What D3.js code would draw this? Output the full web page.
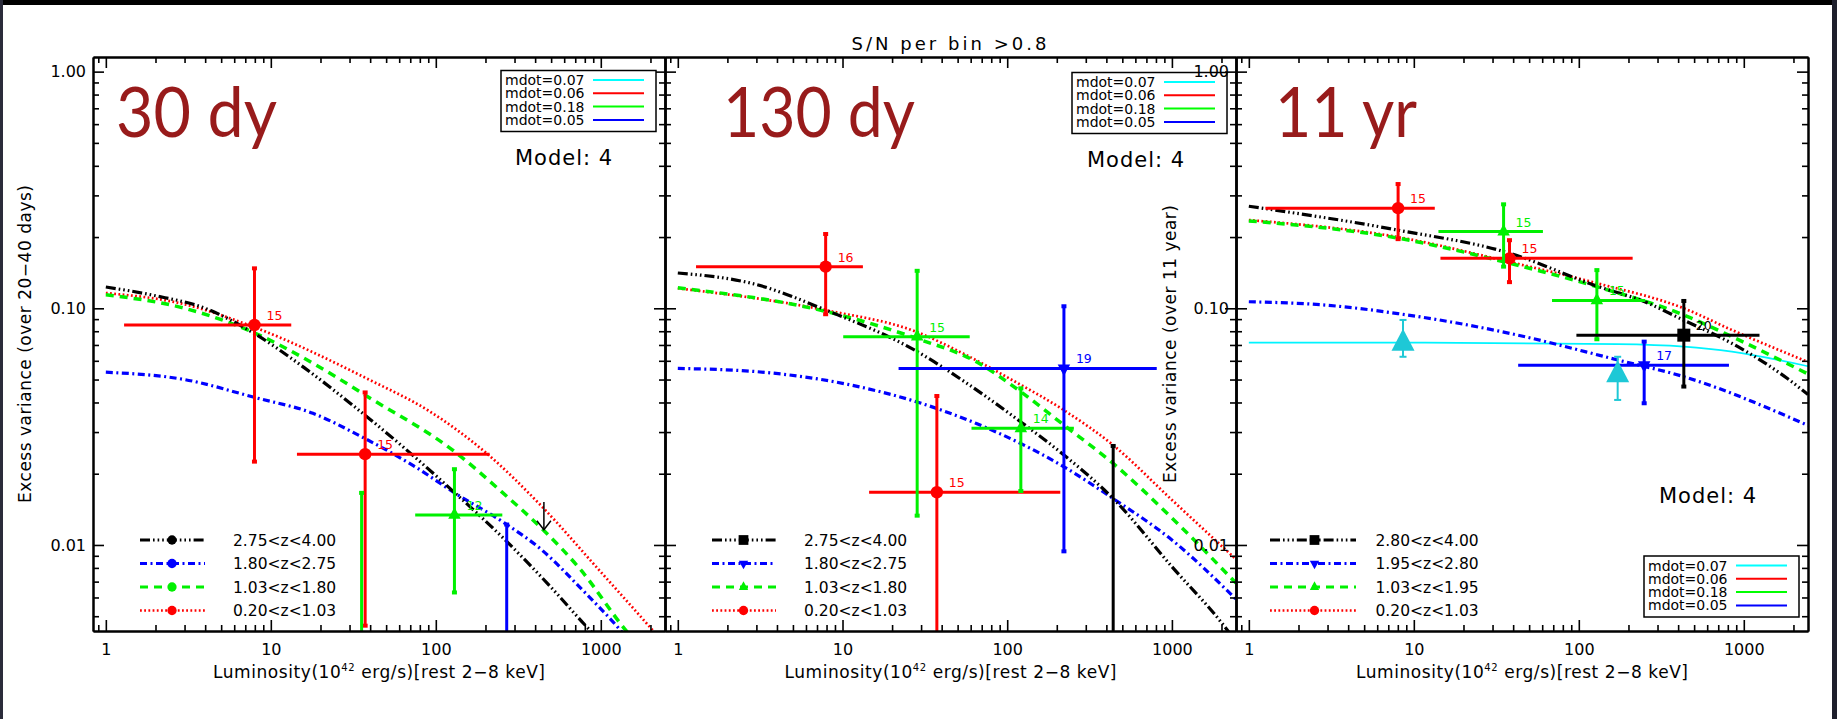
<!DOCTYPE html>
<html>
<head>
<meta charset="utf-8">
<script src="https://cdn.jsdelivr.net/npm/d3@7"></script>
<style>
  body { margin: 0; background: #ffffff; overflow: hidden; }
</style>
</head>
<body>
<div id="chart"></div>
<script>
// ---- values ----
const xTickValues = [1, 10, 100, 1000];
const yTickValues = [0.01, 0.1, 1];
const periodLabels = ['30 dy', '130 dy', '11 yr'];
const mdotLabels = ['mdot=0.07', 'mdot=0.06', 'mdot=0.18', 'mdot=0.05'];
const zBins30 = ['2.75<z<4.00', '1.80<z<2.75', '1.03<z<1.80', '0.20<z<1.03'];
const zBins130 = ['2.75<z<4.00', '1.80<z<2.75', '1.03<z<1.80', '0.20<z<1.03'];
const zBins11 = ['2.80<z<4.00', '1.95<z<2.80', '1.03<z<1.95', '0.20<z<1.03'];

// model curves: [luminosity, excess variance]
const model30Black = [[1, 0.123], [2, 0.113], [4, 0.100], [8, 0.078], [16, 0.056], [32, 0.0385], [64, 0.0258], [128, 0.0168], [256, 0.0107], [512, 0.0065], [800, 0.0046], [1000, 0.0039]];
const model30Blue = [[1, 0.0537], [3, 0.050], [8, 0.042], [18, 0.036], [35, 0.0288], [75, 0.0214], [130, 0.0166], [260, 0.0124], [441, 0.0095], [750, 0.0066], [1300, 0.0044], [1600, 0.0037]];
const model30Green = [[1, 0.114], [3, 0.100], [8, 0.0786], [18, 0.0586], [40, 0.0417], [130, 0.0248], [250, 0.0168], [441, 0.0117], [750, 0.0079], [1440, 0.0043], [1800, 0.0036]];
const model30Red = [[1, 0.116], [3, 0.104], [8, 0.083], [40, 0.0497], [90, 0.0370], [203, 0.0244], [441, 0.0145], [966, 0.0079], [2040, 0.0044], [2450, 0.0038]];

const model130Black = [[1, 0.141], [3, 0.126], [8, 0.098], [28, 0.066], [55, 0.049], [121, 0.0331], [221, 0.024], [440, 0.0157], [1000, 0.0081], [2100, 0.0045], [2450, 0.0039]];
const model130Blue = [[1, 0.0557], [3, 0.054], [10, 0.0482], [28, 0.0403], [65, 0.0326], [221, 0.0214], [440, 0.0157], [1000, 0.0105], [2450, 0.0059]];
const model130Green = [[1, 0.122], [8, 0.0968], [28, 0.0747], [65, 0.0594], [121, 0.0444], [221, 0.0321], [440, 0.0221], [1000, 0.013], [2450, 0.0069]];
const model130Red = [[1, 0.1215], [8, 0.098], [28, 0.0796], [55, 0.064], [107, 0.0498], [221, 0.0371], [440, 0.0264], [1000, 0.0155], [2450, 0.0087]];

const model11Black = [[1, 0.270], [8, 0.214], [38, 0.171], [129, 0.124], [251, 0.1065], [433, 0.089], [847, 0.0711], [1830, 0.0506], [2450, 0.0432]];
const model11Blue = [[1, 0.1066], [3, 0.103], [8, 0.095], [38, 0.0784], [172, 0.0605], [433, 0.0514], [2450, 0.032]];
const model11Green = [[1, 0.234], [8, 0.198], [38, 0.155], [129, 0.1233], [433, 0.0937], [847, 0.0759], [2450, 0.0528]];
const model11Red = [[1, 0.236], [8, 0.200], [38, 0.157], [129, 0.1276], [433, 0.100], [847, 0.081], [2450, 0.0593]];
const model11Cyan = [[1, 0.0716], [8.6, 0.0716], [172, 0.0706], [433, 0.0689], [847, 0.0656], [2450, 0.0569]];

// binned measurements: [L, variance, L low, L high, var low, var high, N]
// (points whose value falls below the plotted range are given 0.003)
const obs30Red = [[7.96, 0.085, 1.29, 13.3, 0.0225, 0.1475, 15], [37.3, 0.0242, 14.4, 212, 0.00456, 0.0441, 15]];
const obs30Green = [[35.5, 0.003, null, null, 0.003, 0.0166, null], [129.7, 0.0134, 75, 253, 0.0063, 0.0209, 12]];
const obs30Blue = [[269, 0.003, null, null, 0.003, 0.0122, null]];
const obs30Black = [];
const limit30Black = [[452, 0.0152, 0.0116]]; // upper limit arrow: L, start, tip

const obs130Red = [[7.9, 0.150, 1.29, 13.3, 0.0944, 0.206, 16], [37.4, 0.0167, 14.5, 210, 0.003, 0.0426, 15]];
const obs130Green = [[28.4, 0.0759, 10.1, 59.2, 0.0133, 0.144, 15], [121, 0.0311, 60.7, 254, 0.0169, 0.0459, 14]];
const obs130Blue = [[221, 0.0557, 21.9, 809, 0.0094, 0.102, 19]];
const obs130Black = [[440, 0.003, null, null, 0.003, 0.0262, null]];

const obs11Red = [[8.03, 0.265, 1.26, 13.4, 0.196, 0.335, 15], [38, 0.1626, 14.5, 212, 0.129, 0.194, 15]];
const obs11Green = [[35, 0.211, 14.1, 60.6, 0.150, 0.275, 15], [128.7, 0.108, 68.8, 253, 0.074, 0.145, 15]];
const obs11Blue = [[249, 0.0575, 42.9, 813, 0.0397, 0.0723, 17]];
const obs11Black = [[433, 0.077, 96.7, 1245, 0.0467, 0.1074, 20]];
const obs11Cyan = [[8.6, 0.071, null, null, 0.0624, 0.0893, null], [172, 0.0523, null, null, 0.041, 0.0624, null]];

// ---- layout & style ----
const width = 1837;
const height = 719;
const plotTop = 57;
const plotBottom = 631;
const xDomain = [0.836, 2450];
const yDomain = [0.00433, 1.153];
const font = '"DejaVu Sans", "Liberation Sans", sans-serif';

const seriesStyle = {
  black: { color: '#000000', dash: '10,3,1.6,3,1.6,3,1.6,3', width: 3.2, marker: 'square' },
  blue: { color: '#0000ff', dash: '7,3.5,2,3.5', width: 3.2, marker: 'down' },
  green: { color: '#00f000', dash: '8,6', width: 3.5, marker: 'up' },
  red: { color: '#ff0000', dash: '1.8,2.4', width: 2.7, marker: 'circle' },
  cyan: { color: '#00f4ff', dash: null, width: 1.6, marker: 'bigup' }
};
const mdotColors = ['#00ffff', '#ff0000', '#00ff00', '#0000ff'];
const legendOrder = ['black', 'blue', 'green', 'red'];

const panels = [
  {
    left: 93, right: 665, label: periodLabels[0], labelX: 116, labelLen: 161,
    yTitle: 'Excess variance (over 20\u221240 days)', yTitleX: 31, yTitleLen: 318, yLabels: true,
    models: { red: model30Red, green: model30Green, blue: model30Blue, black: model30Black },
    obs: { red: obs30Red, green: obs30Green, blue: obs30Blue, black: obs30Black },
    limits: limit30Black,
    zBins: zBins30, legendMarkers: ['circle', 'circle', 'circle', 'circle'],
    zLegend: { x0: 140, x1: 205, mx: 172, tx: 233 },
    mdotBox: { x: 501, y: 70.5 }, modelText: { x: 515, y: 165 }
  },
  {
    left: 665, right: 1236, label: periodLabels[1], labelX: 723, labelLen: 192,
    yTitle: null, yLabels: false,
    models: { red: model130Red, green: model130Green, blue: model130Blue, black: model130Black },
    obs: { red: obs130Red, green: obs130Green, blue: obs130Blue, black: obs130Black },
    limits: [],
    zBins: zBins130, legendMarkers: ['square', 'down', 'up', 'circle'],
    zLegend: { x0: 712, x1: 776, mx: 743.5, tx: 804 },
    mdotBox: { x: 1072, y: 72.5 }, modelText: { x: 1087, y: 167 }
  },
  {
    left: 1236, right: 1808, label: periodLabels[2], labelX: 1275, labelLen: 142,
    yTitle: 'Excess variance (over 11 year)', yTitleX: 1176, yTitleLen: 278, yLabels: true,
    models: { cyan: model11Cyan, red: model11Red, green: model11Green, blue: model11Blue, black: model11Black },
    obs: { red: obs11Red, green: obs11Green, blue: obs11Blue, black: obs11Black, cyan: obs11Cyan },
    limits: [],
    zBins: zBins11, legendMarkers: ['square', 'down', 'up', 'circle'],
    zLegend: { x0: 1270, x1: 1356, mx: 1314.5, tx: 1375.5 },
    mdotBox: { x: 1644, y: 556 }, modelText: { x: 1659, y: 503 }
  }
];

// ---- svg ----
const svg = d3.select('#chart')
  .append('svg')
  .attr('width', width)
  .attr('height', height);

svg.append('rect')
  .attr('width', width)
  .attr('height', height)
  .attr('fill', '#ffffff');

const defs = svg.append('defs');

// marker shapes
function drawMarker(g, shape, cx, cy, color, scale) {
  const s = scale || 1;
  if (shape === 'circle') {
    g.append('circle').attr('cx', cx).attr('cy', cy).attr('r', 6.2 * s).attr('fill', color);
  } else if (shape === 'square') {
    const a = 13 * s;
    g.append('rect').attr('x', cx - a / 2).attr('y', cy - a / 2).attr('width', a).attr('height', a).attr('fill', color);
  } else {
    let w = 12.5 * s, h = 11.5 * s, dir = 1;
    if (shape === 'bigup') { w = 23; h = 22; }
    if (shape === 'down') dir = -1;
    const path = `M${cx},${cy - dir * 2 * h / 3}L${cx + w / 2},${cy + dir * h / 3}L${cx - w / 2},${cy + dir * h / 3}Z`;
    g.append('path').attr('d', path).attr('fill', color);
  }
}

function drawPanel(p, idx) {
  const x = d3.scaleLog().domain(xDomain).range([p.left, p.right]);
  const y = d3.scaleLog().domain(yDomain).range([plotBottom, plotTop]);

  const clipId = 'clip-' + idx;
  defs.append('clipPath')
    .attr('id', clipId)
    .append('rect')
    .attr('x', p.left)
    .attr('y', plotTop)
    .attr('width', p.right - p.left)
    .attr('height', plotBottom - plotTop);

  const plot = svg.append('g').attr('clip-path', `url(#${clipId})`);

  // model curves
  const line = d3.line()
    .x(d => x(d[0]))
    .y(d => y(d[1]))
    .curve(d3.curveMonotoneX);

  Object.keys(p.models).forEach(key => {
    const st = seriesStyle[key];
    plot.append('path')
      .datum(p.models[key])
      .attr('d', line)
      .attr('fill', 'none')
      .attr('stroke', st.color)
      .attr('stroke-width', st.width)
      .attr('stroke-dasharray', st.dash);
  });

  // measurements with error bars
  ['red', 'green', 'blue', 'black', 'cyan'].forEach(key => {
    const rows = p.obs[key];
    if (!rows) return;
    const st = seriesStyle[key];
    const color = key === 'cyan' ? '#1ec8d6' : st.color;
    const bw = key === 'cyan' ? 2 : 3;
    const capW = key === 'cyan' ? 7 : 5;
    rows.forEach(d => {
      const cx = x(d[0]);
      const cy = y(d[1]);
      if (d[2] != null) {
        plot.append('line')
          .attr('x1', x(d[2])).attr('x2', x(d[3]))
          .attr('y1', cy).attr('y2', cy)
          .attr('stroke', color).attr('stroke-width', 3);
      }
      plot.append('line')
        .attr('x1', cx).attr('x2', cx)
        .attr('y1', y(d[4])).attr('y2', y(d[5]))
        .attr('stroke', color).attr('stroke-width', bw);
      [d[4], d[5]].forEach(v => {
        plot.append('rect')
          .attr('x', cx - capW / 2).attr('y', y(v) - (key === 'cyan' ? 1 : 2))
          .attr('width', capW).attr('height', key === 'cyan' ? 2 : 4)
          .attr('fill', color);
      });
      drawMarker(plot, st.marker, cx, cy, color, 1);
      if (d[6] != null) {
        plot.append('text')
          .attr('x', cx + 12)
          .attr('y', cy - 5)
          .style('font-family', font)
          .style('font-size', '12.5px')
          .style('fill', color)
          .text(d[6]);
      }
    });
  });

  // upper limits (arrows)
  p.limits.forEach(d => {
    const cx = x(d[0]);
    const y0 = y(d[1]);
    const y1 = y(d[2]);
    plot.append('line')
      .attr('x1', cx).attr('x2', cx).attr('y1', y0).attr('y2', y1)
      .attr('stroke', '#000').attr('stroke-width', 1.5);
    plot.append('path')
      .attr('d', `M${cx - 7},${y1 - 9}L${cx},${y1}L${cx + 7},${y1 - 9}`)
      .attr('fill', 'none').attr('stroke', '#000').attr('stroke-width', 1.5);
  });

  // axes: major + minor ticks on all four sides, pointing inward
  const minorX = x.ticks().filter(v => !xTickValues.includes(v));
  const minorY = y.ticks().filter(v => !yTickValues.some(t => Math.abs(t - v) < 1e-9));

  const axisGroups = [];
  axisGroups.push(svg.append('g').attr('transform', `translate(0,${plotBottom})`)
    .call(d3.axisBottom(x).tickValues(xTickValues).tickSize(-11).tickSizeOuter(0).tickPadding(13).tickFormat(d3.format('d'))));
  axisGroups.push(svg.append('g').attr('transform', `translate(0,${plotBottom})`)
    .call(d3.axisBottom(x).tickValues(minorX).tickSize(-6).tickSizeOuter(0).tickFormat('')));
  axisGroups.push(svg.append('g').attr('transform', `translate(0,${plotTop})`)
    .call(d3.axisTop(x).tickValues(xTickValues).tickSize(-11).tickSizeOuter(0).tickFormat('')));
  axisGroups.push(svg.append('g').attr('transform', `translate(0,${plotTop})`)
    .call(d3.axisTop(x).tickValues(minorX).tickSize(-6).tickSizeOuter(0).tickFormat('')));
  axisGroups.push(svg.append('g').attr('transform', `translate(${p.left},0)`)
    .call(d3.axisLeft(y).tickValues(yTickValues).tickSize(-11).tickSizeOuter(0).tickPadding(7)
      .tickFormat(p.yLabels ? d3.format('.2f') : '')));
  axisGroups.push(svg.append('g').attr('transform', `translate(${p.left},0)`)
    .call(d3.axisLeft(y).tickValues(minorY).tickSize(-6).tickSizeOuter(0).tickFormat('')));
  axisGroups.push(svg.append('g').attr('transform', `translate(${p.right},0)`)
    .call(d3.axisRight(y).tickValues(yTickValues).tickSize(-11).tickSizeOuter(0).tickFormat('')));
  axisGroups.push(svg.append('g').attr('transform', `translate(${p.right},0)`)
    .call(d3.axisRight(y).tickValues(minorY).tickSize(-6).tickSizeOuter(0).tickFormat('')));

  axisGroups.forEach(g => {
    g.attr('font-family', null).attr('font-size', null);
    g.select('.domain').attr('stroke', '#000').attr('stroke-width', 2);
    g.selectAll('.tick line').attr('stroke', '#000').attr('stroke-width', 1.6);
    g.selectAll('.tick text')
      .style('font-family', font)
      .style('font-size', '16px')
      .style('fill', '#000');
  });

  // x-axis title
  const xt = svg.append('text')
    .attr('x', (p.left + p.right) / 2)
    .attr('y', 678)
    .attr('text-anchor', 'middle')
    .attr('textLength', 332)
    .attr('lengthAdjust', 'spacing')
    .style('font-family', font)
    .style('font-size', '17px')
    .style('fill', '#000');
  xt.append('tspan').text('Luminosity(10');
  xt.append('tspan').attr('dy', -7).style('font-size', '10px').text('42');
  xt.append('tspan').attr('dy', 7).text(' erg/s)[rest 2\u22128 keV]');

  // y-axis title
  if (p.yTitle) {
    svg.append('text')
      .attr('transform', `translate(${p.yTitleX},${(plotTop + plotBottom) / 2}) rotate(-90)`)
      .attr('text-anchor', 'middle')
      .attr('textLength', p.yTitleLen)
      .attr('lengthAdjust', 'spacing')
      .style('font-family', font)
      .style('font-size', '17px')
      .style('fill', '#000')
      .text(p.yTitle);
  }

  // big period label
  svg.append('text')
    .attr('x', p.labelX)
    .attr('y', 137)
    .attr('textLength', p.labelLen)
    .attr('lengthAdjust', 'spacingAndGlyphs')
    .style('font-family', 'Lato, "Open Sans", sans-serif')
    .style('font-size', '70px')
    .style('fill', '#981b1b')
    .text(p.label);

  // Model: 4
  svg.append('text')
    .attr('x', p.modelText.x)
    .attr('y', p.modelText.y)
    .style('font-family', font)
    .style('font-size', '21px')
    .style('letter-spacing', '1px')
    .style('fill', '#000')
    .text('Model: 4');

  // mdot legend box
  const box = svg.append('g').attr('transform', `translate(${p.mdotBox.x},${p.mdotBox.y})`);
  box.append('rect')
    .attr('width', 155)
    .attr('height', 61)
    .attr('fill', '#fff')
    .attr('stroke', '#000')
    .attr('stroke-width', 1.5);
  mdotLabels.forEach((lab, i) => {
    const cy = 9.5 + i * 13.3;
    box.append('text')
      .attr('x', 4)
      .attr('y', cy)
      .attr('dy', '0.36em')
      .style('font-family', font)
      .style('font-size', '14px')
      .style('fill', '#000')
      .text(lab);
    box.append('line')
      .attr('x1', 92).attr('x2', 143)
      .attr('y1', cy).attr('y2', cy)
      .attr('stroke', mdotColors[i])
      .attr('stroke-width', 2);
  });

  // redshift-bin legend
  p.zBins.forEach((lab, i) => {
    const key = legendOrder[i];
    const st = seriesStyle[key];
    const cy = 540 + i * 23.5;
    svg.append('line')
      .attr('x1', p.zLegend.x0).attr('x2', p.zLegend.x1)
      .attr('y1', cy).attr('y2', cy)
      .attr('stroke', st.color)
      .attr('stroke-width', key === 'red' ? 2.6 : 3)
      .attr('stroke-dasharray', st.dash);
    drawMarker(svg, p.legendMarkers[i], p.zLegend.mx, cy, st.color, 0.75);
    svg.append('text')
      .attr('x', p.zLegend.tx)
      .attr('y', cy)
      .attr('dy', '0.36em')
      .style('font-family', font)
      .style('font-size', '15.5px')
      .style('fill', '#000')
      .text(lab);
  });
}

panels.forEach(drawPanel);

// overall title
svg.append('text')
  .attr('x', 949)
  .attr('y', 50)
  .attr('text-anchor', 'middle')
  .attr('textLength', 195)
  .attr('lengthAdjust', 'spacing')
  .style('font-family', font)
  .style('font-size', '18px')
  .style('fill', '#000')
  .text('S/N per bin >0.8');

// screenshot frame
svg.append('rect').attr('x', 0).attr('y', 0).attr('width', width).attr('height', 5).attr('fill', '#000');
svg.append('rect').attr('x', 0).attr('y', 0).attr('width', 3).attr('height', height).attr('fill', '#2a2b3a');
svg.append('rect').attr('x', 1832).attr('y', 0).attr('width', 5).attr('height', height).attr('fill', '#1e1f2c');
</script>
</body>
</html>
